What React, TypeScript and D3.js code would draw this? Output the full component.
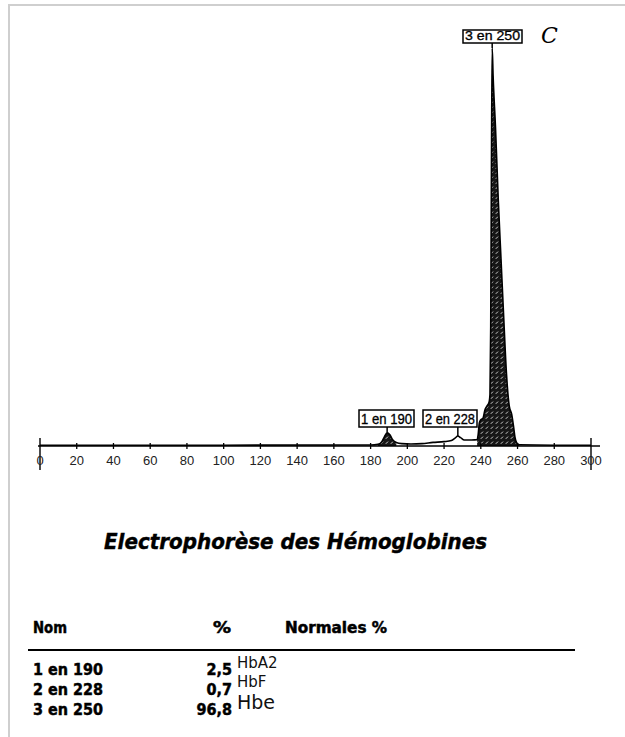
import React from "react";
import * as d3 from "d3";

const migration = [0, 100, 180, 184, 186, 187.5, 189, 190.5, 192, 194, 197, 202, 208, 214, 220, 224, 226, 227.5, 229, 231, 235, 238, 238.6, 239.2, 240, 241.2, 242.2, 243.3, 244.5, 245, 245.4, 245.8, 246.2, 246.7, 248, 249.5, 251, 252.5, 254, 255.5, 256.8, 257.8, 258.6, 259.5, 261, 280, 300];
const signal = [0.2, 0.2, 0.25, 0.4, 1.0, 2.3, 3.3, 2.8, 1.6, 0.9, 0.6, 0.5, 0.6, 0.9, 1.1, 1.4, 2.0, 2.5, 2.1, 1.5, 1.5, 1.6, 3, 5.8, 6.6, 7.0, 9.0, 10, 11, 13, 30, 70, 100, 93, 80, 62, 47, 32, 18, 10, 8, 5, 2.2, 0.8, 0.3, 0.2, 0.2];

const axisTicks = [0, 20, 40, 60, 80, 100, 120, 140, 160, 180, 200, 220, 240, 260, 280, 300];

const peakLabels = ["1 en 190", "2 en 228", "3 en 250"];
const peakPositions = [189, 227.5, 246.2];
const peakHeights = [3.3, 2.5, 100];
const filledRanges: [number, number][] = [[184, 195], [238, 261]];

const rowNames = ["1 en 190", "2 en 228", "3 en 250"];
const rowPercents = ["2,5", "0,7", "96,8"];
const rowNotes = ["HbA2", "HbF", "Hbe"];

export default function App() {
  const x = d3.scaleLinear().domain([0, 300]).range([40, 591]);
  const y = d3.scaleLinear().domain([0, 100]).range([446, 48]);
  const pts = migration.map((m, i) => ({ m, v: signal[i] }));
  const line = d3.line<{ m: number; v: number }>().x(d => x(d.m)).y(d => y(d.v)).curve(d3.curveMonotoneX);
  const area = d3.area<{ m: number; v: number }>().x(d => x(d.m)).y0(y(0)).y1(d => y(d.v)).curve(d3.curveMonotoneX);

  const boxes = [
    { x0: 359, x1: 414, y0: 410, y1: 427, fs: 14 },
    { x0: 423, x1: 477, y0: 410, y1: 427, fs: 14 },
    { x0: 463, x1: 522, y0: 30, y1: 43, fs: 12.5 },
  ];

  const tableFont = "'DejaVu Sans Condensed', 'DejaVu Sans', sans-serif";
  const hand = "'Liberation Sans Narrow', 'DejaVu Sans', sans-serif";
  const heavy = { stroke: "#000", strokeWidth: 0.45 };

  return (
    <svg width={625} height={737} style={{ position: "absolute", left: 0, top: 0, background: "#fff" }} fontFamily="'Liberation Sans', Arial, sans-serif">
      <defs>
        <pattern id="hatch" width={5} height={5} patternUnits="userSpaceOnUse">
          <rect width={5} height={5} fill="#161616" />
          <line x1={0.8} y1={3.8} x2={3} y2={1.6} stroke="#e8e8e8" strokeWidth={0.9} />
        </pattern>
      </defs>
      <line x1={8} y1={5} x2={625} y2={5} stroke="#cfcfcf" strokeWidth={2} />
      <line x1={9} y1={4} x2={9} y2={737} stroke="#cfcfcf" strokeWidth={2} />

      {filledRanges.map(([a, b], i) => (
        <path key={i} d={area(pts.filter(p => p.m >= a && p.m <= b)) || ""} fill="url(#hatch)" />
      ))}

      <line x1={38} y1={y(0)} x2={600} y2={y(0)} stroke="#000" strokeWidth={1.6} />
      {axisTicks.map(t => (
        <g key={t}>
          <line x1={x(t)} x2={x(t)} y1={y(0) - (t === 0 || t === 300 ? 8 : 3)} y2={y(0) + (t === 0 || t === 300 ? 24 : 3)} stroke="#000" strokeWidth={t === 0 || t === 300 ? 1.4 : 1.3} />
          <text x={x(t)} y={465} textAnchor="middle" fontSize={13} fill="#222">{t}</text>
        </g>
      ))}

      <path d={line(pts) || ""} fill="none" stroke="#000" strokeWidth={1.6} />

      {peakLabels.map((lab, i) => {
        const b = boxes[i];
        return (
          <g key={lab}>
            <line x1={x(peakPositions[i])} x2={x(peakPositions[i])} y1={b.y1} y2={y(peakHeights[i])} stroke="#000" strokeWidth={1.5} />
            <rect x={b.x0} y={b.y0} width={b.x1 - b.x0} height={b.y1 - b.y0} fill="#fff" stroke="#000" strokeWidth={1.5} />
            <text x={(b.x0 + b.x1) / 2} y={b.y1 - 3} textAnchor="middle" fontSize={b.fs} textLength={b.x1 - b.x0 - 4} lengthAdjust="spacingAndGlyphs" fill="#000" stroke="#000" strokeWidth={0.3}>{lab}</text>
          </g>
        );
      })}
      <text x={541} y={43} fontSize={22} fontStyle="italic" fontFamily="'DejaVu Serif', serif" fill="#000">C</text>

      <text x={104} y={549} fontSize={22} fontWeight="bold" fontStyle="italic" fontFamily="'DejaVu Sans', sans-serif" textLength={383} lengthAdjust="spacingAndGlyphs" fill="#000" {...heavy}>Electrophorèse des Hémoglobines</text>

      <text x={33} y={633} fontSize={15} fontWeight="bold" fontFamily={tableFont} textLength={34} lengthAdjust="spacingAndGlyphs" {...heavy}>Nom</text>
      <text x={213} y={633} fontSize={15} fontWeight="bold" fontFamily={tableFont} textLength={18} lengthAdjust="spacingAndGlyphs" {...heavy}>%</text>
      <text x={285} y={633} fontSize={15} fontWeight="bold" fontFamily={tableFont} textLength={102} lengthAdjust="spacingAndGlyphs" {...heavy}>Normales %</text>
      <line x1={28} x2={575} y1={650} y2={650} stroke="#000" strokeWidth={2} />

      {rowNames.map((n, i) => (
        <g key={n}>
          <text x={33} y={675 + i * 20} fontSize={16} fontWeight="bold" fontFamily={tableFont} textLength={70} lengthAdjust="spacingAndGlyphs" {...heavy}>{n}</text>
          <text x={232} y={675 + i * 20} fontSize={16} fontWeight="bold" fontFamily={tableFont} textAnchor="end" {...heavy}>{rowPercents[i]}</text>
          <text x={237} y={668 + i * 19 + (i === 2 ? 3 : 0)} fontSize={i === 2 ? 19 : 15} fontFamily={hand} fill="#111">{rowNotes[i]}</text>
        </g>
      ))}
    </svg>
  );
}
